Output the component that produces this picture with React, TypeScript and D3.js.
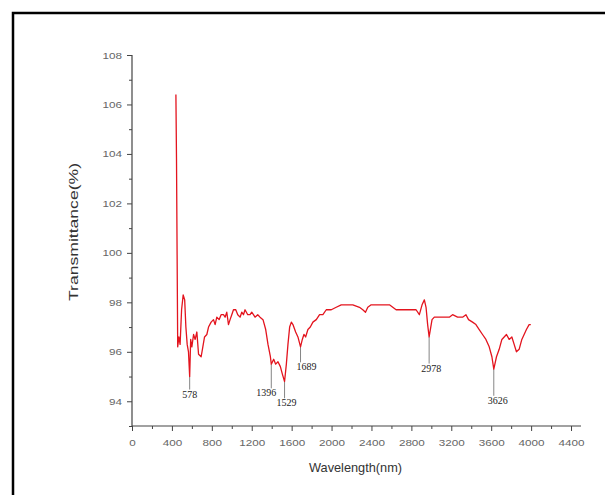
import { useEffect, useRef } from "react";
import * as d3 from "d3";

// spectrum
const WAVELENGTH = [
  440, 446, 458, 470, 482, 497, 513, 528, 540, 553, 566, 578, 588, 600, 617, 633, 650, 667, 693, 710,
  727, 750, 767, 793, 817, 833, 850, 873, 893, 917, 933, 950, 967, 983, 1000, 1017, 1040, 1060, 1083, 1100,
  1117, 1133, 1160, 1183, 1200, 1217, 1233, 1260, 1283, 1313, 1340, 1363, 1387, 1396, 1420, 1440, 1463, 1487, 1507, 1529,
  1547, 1563, 1580, 1597, 1613, 1640, 1663, 1689, 1707, 1723, 1740, 1763, 1787, 1813, 1847, 1880, 1913, 1947, 1997, 2047,
  2097, 2147, 2213, 2280, 2313, 2340, 2363, 2397, 2447, 2513, 2580, 2647, 2713, 2780, 2847, 2880, 2907, 2930, 2947, 2963,
  2978, 3007, 3030, 3080, 3130, 3180, 3213, 3263, 3313, 3347, 3373, 3413, 3447, 3480, 3513, 3547, 3580, 3607, 3626, 3653,
  3680, 3707, 3730, 3753, 3780, 3807, 3830, 3853, 3880, 3907, 3930, 3953, 3980, 3997,
];
const TRANSMITTANCE = [
  106.4, 103.8, 96.2, 96.6, 96.3, 97.7, 98.3, 98.1, 97.0, 96.3, 96.0, 95.0, 96.5, 96.2, 96.7, 96.5, 96.8, 95.9, 95.8, 96.2,
  96.6, 96.7, 97.0, 97.2, 97.3, 97.1, 97.4, 97.3, 97.5, 97.5, 97.4, 97.6, 97.1, 97.3, 97.5, 97.7, 97.7, 97.5, 97.4, 97.6,
  97.5, 97.7, 97.5, 97.5, 97.6, 97.5, 97.4, 97.5, 97.4, 97.3, 96.9, 96.3, 95.8, 95.5, 95.7, 95.5, 95.6, 95.4, 95.1, 94.8,
  95.5, 96.3, 97.0, 97.2, 97.1, 96.8, 96.6, 96.2, 96.5, 96.7, 96.6, 96.9, 97.0, 97.2, 97.3, 97.5, 97.5, 97.7, 97.7, 97.8,
  97.9, 97.9, 97.9, 97.8, 97.7, 97.6, 97.8, 97.9, 97.9, 97.9, 97.9, 97.7, 97.7, 97.7, 97.7, 97.5, 97.9, 98.1, 97.8, 97.1,
  96.6, 97.3, 97.4, 97.4, 97.4, 97.4, 97.5, 97.4, 97.4, 97.5, 97.3, 97.2, 97.1, 96.9, 96.7, 96.5, 96.2, 95.8, 95.3, 95.8,
  96.1, 96.5, 96.6, 96.7, 96.5, 96.6, 96.3, 96.0, 96.1, 96.5, 96.7, 96.9, 97.1, 97.1,
];

// marked absorption bands
const PEAKS = [578, 1396, 1529, 1689, 2978, 3626];
const PEAK_VALUES = [95.0, 95.5, 94.8, 96.2, 96.6, 95.3];
const PEAK_LABEL_LEVEL = [94.15, 94.2, 93.8, 95.25, 95.2, 93.9];
const PEAK_LABEL_SHIFT = [0, -5, 2, 6, 2, 4];

const Y_TICKS = [94, 96, 98, 100, 102, 104, 106, 108];
const X_TICKS = [0, 400, 800, 1200, 1600, 2000, 2400, 2800, 3200, 3600, 4000, 4400];

const W = 605;
const H = 495;

export default function App() {
  const ref = useRef<SVGSVGElement>(null);

  useEffect(() => {
    if (!ref.current) return;
    const svg = d3.select(ref.current);
    svg.selectAll("*").remove();

    const x0 = 132, x1 = 581;
    const y0 = 426, y1 = 55;
    const x = d3.scaleLinear().domain([0, 4500]).range([x0, x1]);
    const y = d3.scaleLinear().domain([93, 108]).range([y0, y1]);

    // frame
    svg.append("path")
      .attr("d", `M13,${H} L13,13 L${W},13`)
      .attr("fill", "none")
      .attr("stroke", "#000")
      .attr("stroke-width", 2.5);

    const axisCol = "#444";
    const tickFont = "'Liberation Sans', Arial, sans-serif";
    // labels in the source are squashed wide, so stretch them a bit
    const stretch = (sel: any) =>
      sel.attr("textLength", function (this: SVGTextElement) {
        return (this.textContent || "").length * 6.5;
      }).attr("lengthAdjust", "spacingAndGlyphs");

    // y axis
    const yAxis = svg.append("g")
      .attr("transform", `translate(${x0},0)`)
      .call(d3.axisLeft(y).tickValues(Y_TICKS).tickSize(5).tickPadding(5).tickFormat((d) => `${d}`));
    yAxis.select(".domain").attr("stroke", axisCol).attr("stroke-width", 1.2).attr("d", `M0,${y0}V${y1}`);
    yAxis.selectAll(".tick line").attr("stroke", axisCol);
    yAxis.selectAll(".tick text").attr("fill", "#666").attr("font-size", "9.5px").attr("font-family", tickFont).call(stretch);
    svg.append("g")
      .attr("transform", `translate(${x0},0)`)
      .call(d3.axisLeft(y).tickValues(d3.range(93, 108, 2)).tickSize(3).tickFormat(() => ""))
      .call((g) => g.select(".domain").remove())
      .call((g) => g.selectAll(".tick line").attr("stroke", axisCol));

    // x axis
    const xAxis = svg.append("g")
      .attr("transform", `translate(0,${y0})`)
      .call(d3.axisBottom(x).tickValues(X_TICKS).tickSize(5).tickPadding(8).tickFormat((d) => `${d}`));
    xAxis.select(".domain").attr("stroke", axisCol).attr("stroke-width", 1.2).attr("d", `M${x0},0H${x1}`);
    xAxis.selectAll(".tick line").attr("stroke", axisCol);
    xAxis.selectAll(".tick text").attr("fill", "#666").attr("font-size", "9.5px").attr("font-family", tickFont).call(stretch);
    svg.append("g")
      .attr("transform", `translate(0,${y0})`)
      .call(d3.axisBottom(x).tickValues(d3.range(200, 4500, 400)).tickSize(3).tickFormat(() => ""))
      .call((g) => g.select(".domain").remove())
      .call((g) => g.selectAll(".tick line").attr("stroke", axisCol));

    // axis titles
    svg.append("text")
      .attr("transform", `translate(78,232) rotate(-90)`)
      .attr("text-anchor", "middle")
      .attr("fill", "#333")
      .attr("font-size", "13.5px")
      .attr("font-family", tickFont)
      .attr("textLength", 138)
      .attr("lengthAdjust", "spacingAndGlyphs")
      .text("Transmittance(%)");
    svg.append("text")
      .attr("x", (x0 + x1) / 2 - 1)
      .attr("y", 472)
      .attr("text-anchor", "middle")
      .attr("fill", "#333")
      .attr("font-size", "13px")
      .attr("font-family", tickFont)
      .attr("textLength", 93)
      .attr("lengthAdjust", "spacingAndGlyphs")
      .text("Wavelength(nm)");

    // peak markers
    PEAKS.forEach((p, i) => {
      svg.append("line")
        .attr("x1", x(p)).attr("x2", x(p))
        .attr("y1", y(PEAK_VALUES[i]))
        .attr("y2", y(PEAK_LABEL_LEVEL[i]) - 8)
        .attr("stroke", "#666")
        .attr("stroke-width", 0.8);
      svg.append("text")
        .attr("x", x(p) + PEAK_LABEL_SHIFT[i])
        .attr("y", y(PEAK_LABEL_LEVEL[i]))
        .attr("text-anchor", "middle")
        .attr("fill", "#222")
        .attr("font-size", "10px")
        .attr("font-family", "'Liberation Serif', 'Times New Roman', serif")
        .text(`${p}`);
    });

    // spectrum
    const pts = WAVELENGTH.map((w, i) => [w, TRANSMITTANCE[i]] as [number, number]);
    const line = d3.line<[number, number]>().x((d) => x(d[0])).y((d) => y(d[1]));
    svg.append("path")
      .datum(pts)
      .attr("fill", "none")
      .attr("stroke", "#e3141e")
      .attr("stroke-width", 1.3)
      .attr("stroke-linejoin", "round")
      .attr("d", line);
  }, []);

  return (
    <div style={{ position: "absolute", left: 0, top: 0, background: "#fff" }}>
      <svg ref={ref} width={W} height={H} style={{ display: "block" }} />
    </div>
  );
}
